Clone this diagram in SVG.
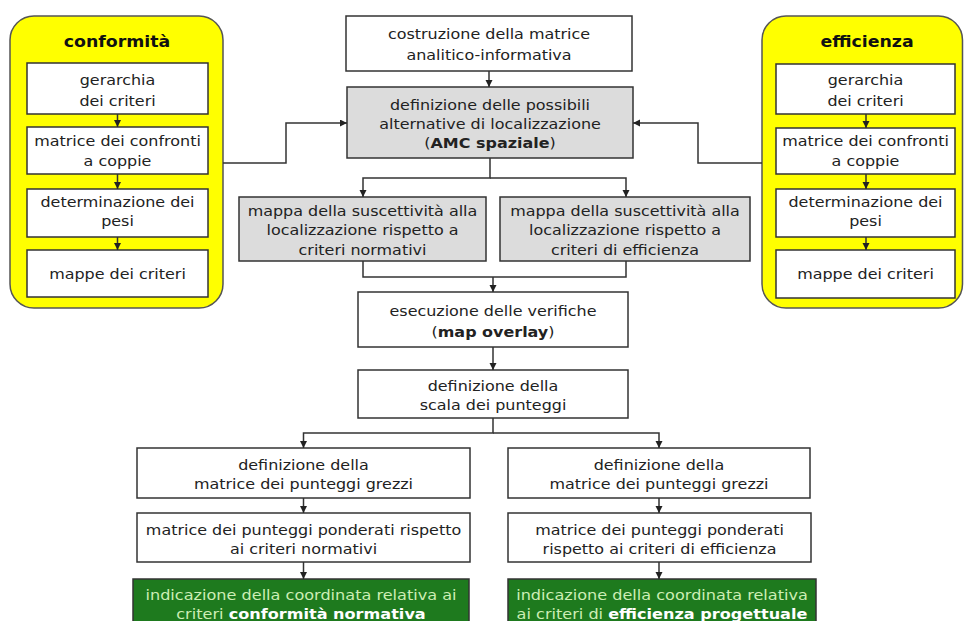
<svg xmlns="http://www.w3.org/2000/svg" width="964" height="621" viewBox="0 0 964 621">
<style>
.box{fill:#ffffff;stroke:#333333;stroke-width:1.5}
.gray{fill:#dcdcdc;stroke:#333333;stroke-width:1.5}
.green{fill:#1e7a1e;stroke:#333333;stroke-width:1.5}
.panel{fill:#ffff00;stroke:#555555;stroke-width:1.5}
.t{font-family:"DejaVu Sans","Liberation Sans",sans-serif;font-size:14px;fill:#222222;text-anchor:middle}
.title{font-family:"DejaVu Sans","Liberation Sans",sans-serif;font-size:15.5px;font-weight:bold;fill:#111111;text-anchor:middle}
.b{font-weight:bold}
.gt{fill:#cdeeb5}
.gb{fill:#ffffff;font-weight:bold}
.c{fill:none;stroke:#333333;stroke-width:1.5}
.a{marker-end:url(#arr)}
</style>
<defs>
<marker id="arr" markerUnits="userSpaceOnUse" markerWidth="8" markerHeight="8" refX="7" refY="3.5" orient="auto">
<path d="M0,0 L7,3.5 L0,7 z" fill="#222222"/>
</marker>
</defs>
<rect width="964" height="621" fill="#ffffff"/>

<g id="panel-conformita">
<rect class="panel" x="10" y="16" width="213" height="292" rx="24"/>
<text class="title" transform="translate(117 0) scale(1.12 1)" y="47">conformità</text>
<g id="c-gerarchia"><rect class="box" x="27" y="63" width="181" height="51"/>
<text class="t" transform="translate(117.5 0) scale(1.14 1)" y="85">gerarchia</text>
<text class="t" transform="translate(117.5 0) scale(1.14 1)" y="106">dei criteri</text></g>
<g id="c-matrice"><rect class="box" x="27" y="127" width="181" height="47"/>
<text class="t" transform="translate(117.5 0) scale(1.14 1)" y="146.5">matrice dei confronti</text>
<text class="t" transform="translate(117.5 0) scale(1.14 1)" y="166">a coppie</text></g>
<g id="c-pesi"><rect class="box" x="27" y="189" width="181" height="48"/>
<text class="t" transform="translate(117.5 0) scale(1.14 1)" y="207">determinazione dei</text>
<text class="t" transform="translate(117.5 0) scale(1.14 1)" y="226">pesi</text></g>
<g id="c-mappe"><rect class="box" x="27" y="250" width="181" height="47"/>
<text class="t" transform="translate(117.5 0) scale(1.14 1)" y="279">mappe dei criteri</text></g>
</g>

<g id="panel-efficienza">
<rect class="panel" x="762" y="16" width="200.5" height="292" rx="24"/>
<text class="title" transform="translate(867 0) scale(1.12 1)" y="47">efficienza</text>
<g id="e-gerarchia"><rect class="box" x="776" y="64" width="179" height="50"/>
<text class="t" transform="translate(865.5 0) scale(1.14 1)" y="85">gerarchia</text>
<text class="t" transform="translate(865.5 0) scale(1.14 1)" y="106">dei criteri</text></g>
<g id="e-matrice"><rect class="box" x="776" y="128" width="179" height="46"/>
<text class="t" transform="translate(865.5 0) scale(1.14 1)" y="146.5">matrice dei confronti</text>
<text class="t" transform="translate(865.5 0) scale(1.14 1)" y="166">a coppie</text></g>
<g id="e-pesi"><rect class="box" x="776" y="189" width="179" height="48"/>
<text class="t" transform="translate(865.5 0) scale(1.14 1)" y="207">determinazione dei</text>
<text class="t" transform="translate(865.5 0) scale(1.14 1)" y="226">pesi</text></g>
<g id="e-mappe"><rect class="box" x="776" y="250" width="179" height="48"/>
<text class="t" transform="translate(865.5 0) scale(1.14 1)" y="279">mappe dei criteri</text></g>
</g>

<g id="n-costruzione"><rect class="box" x="346" y="16" width="286" height="55"/>
<text class="t" transform="translate(489 0) scale(1.14 1)" y="39">costruzione della matrice</text>
<text class="t" transform="translate(489 0) scale(1.14 1)" y="60">analitico-informativa</text></g>

<g id="n-definizione"><rect class="gray" x="347" y="87" width="286" height="71"/>
<text class="t" transform="translate(490 0) scale(1.14 1)" y="110">definizione delle possibili</text>
<text class="t" transform="translate(490 0) scale(1.14 1)" y="129">alternative di localizzazione</text>
<text class="t" transform="translate(490 0) scale(1.14 1)" y="148">(<tspan class="b">AMC spaziale</tspan>)</text></g>

<g id="n-mappa-norm"><rect class="gray" x="239" y="197" width="247" height="64"/>
<text class="t" transform="translate(362.5 0) scale(1.14 1)" y="216">mappa della suscettività alla</text>
<text class="t" transform="translate(362.5 0) scale(1.14 1)" y="235.5">localizzazione rispetto a</text>
<text class="t" transform="translate(362.5 0) scale(1.14 1)" y="255">criteri normativi</text></g>

<g id="n-mappa-eff"><rect class="gray" x="500" y="197" width="250" height="64"/>
<text class="t" transform="translate(625 0) scale(1.14 1)" y="216">mappa della suscettività alla</text>
<text class="t" transform="translate(625 0) scale(1.14 1)" y="235.5">localizzazione rispetto a</text>
<text class="t" transform="translate(625 0) scale(1.14 1)" y="255">criteri di efficienza</text></g>

<g id="n-esecuzione"><rect class="box" x="358" y="292" width="270" height="55"/>
<text class="t" transform="translate(493 0) scale(1.14 1)" y="316">esecuzione delle verifiche</text>
<text class="t" transform="translate(493 0) scale(1.14 1)" y="337">(<tspan class="b">map overlay</tspan>)</text></g>

<g id="n-scala"><rect class="box" x="358" y="370" width="270" height="48"/>
<text class="t" transform="translate(493 0) scale(1.14 1)" y="391">definizione della</text>
<text class="t" transform="translate(493 0) scale(1.14 1)" y="410">scala dei punteggi</text></g>

<g id="n-grezzi-l"><rect class="box" x="137" y="448" width="333" height="50"/>
<text class="t" transform="translate(303.5 0) scale(1.14 1)" y="470">definizione della</text>
<text class="t" transform="translate(303.5 0) scale(1.14 1)" y="489">matrice dei punteggi grezzi</text></g>

<g id="n-ponderati-l"><rect class="box" x="137" y="513" width="333" height="49"/>
<text class="t" transform="translate(303.5 0) scale(1.14 1)" y="535">matrice dei punteggi ponderati rispetto</text>
<text class="t" transform="translate(303.5 0) scale(1.14 1)" y="554">ai criteri normativi</text></g>

<g id="n-coord-l"><rect class="green" x="133" y="579" width="336" height="46"/>
<text class="t gt" transform="translate(301 0) scale(1.15 1)" y="600">indicazione della coordinata relativa ai</text>
<text class="t gt" transform="translate(301 0) scale(1.15 1)" y="619">criteri <tspan class="gb">conformità normativa</tspan></text></g>

<g id="n-grezzi-r"><rect class="box" x="508" y="448" width="302" height="50"/>
<text class="t" transform="translate(659 0) scale(1.14 1)" y="470">definizione della</text>
<text class="t" transform="translate(659 0) scale(1.14 1)" y="489">matrice dei punteggi grezzi</text></g>

<g id="n-ponderati-r"><rect class="box" x="508" y="513" width="303" height="49"/>
<text class="t" transform="translate(659.5 0) scale(1.14 1)" y="535">matrice dei punteggi ponderati</text>
<text class="t" transform="translate(659.5 0) scale(1.14 1)" y="554">rispetto ai criteri di efficienza</text></g>

<g id="n-coord-r"><rect class="green" x="508" y="579" width="308" height="46"/>
<text class="t gt" transform="translate(662 0) scale(1.15 1)" y="600">indicazione della coordinata relativa</text>
<text class="t gt" transform="translate(662 0) scale(1.15 1)" y="619">ai criteri di <tspan class="gb">efficienza progettuale</tspan></text></g>

<g id="connectors">
<path class="c a" d="M117.5,114 V127"/>
<path class="c a" d="M117.5,174 V189"/>
<path class="c a" d="M117.5,237 V250"/>
<path class="c a" d="M866,114 V128"/>
<path class="c a" d="M866,174 V189"/>
<path class="c a" d="M866,237 V250"/>
<path class="c a" d="M489,71 V87"/>
<path class="c a" d="M223,163 H286 V123 H347"/>
<path class="c a" d="M762,163 H698 V123 H633"/>
<path class="c a" d="M490,158 V178 H363 V197"/>
<path class="c a" d="M490,178 H626 V197"/>
<path class="c" d="M363,261 V277 H626 V261"/>
<path class="c a" d="M493,277 V292"/>
<path class="c a" d="M493,347 V370"/>
<path class="c a" d="M493,418 V433 H303.5 V448"/>
<path class="c a" d="M493,433 H659 V448"/>
<path class="c a" d="M303.5,498 V513"/>
<path class="c a" d="M303.5,562 V579"/>
<path class="c a" d="M659,498 V513"/>
<path class="c a" d="M659,562 V579"/>
</g>
</svg>
